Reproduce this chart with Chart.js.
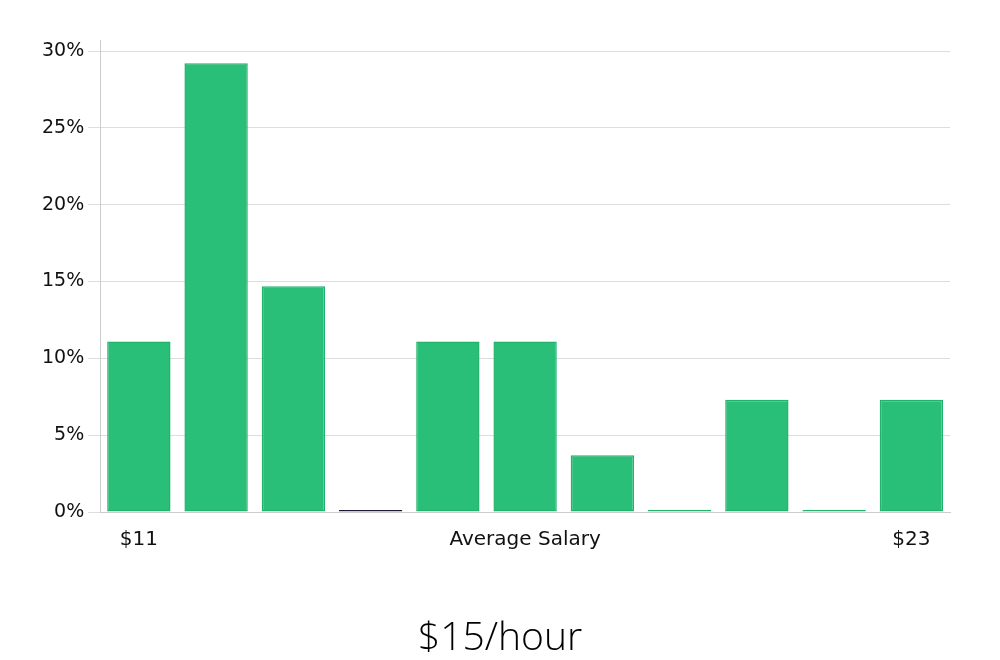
<!DOCTYPE html>
<html>
<head>
<meta charset="utf-8">
<script src="https://cdn.jsdelivr.net/npm/chart.js@4"></script>
<style>
  html, body { margin: 0; padding: 0; background: #fff; }
  #wrap { position: relative; width: 1000px; height: 660px; }
  #chartTitle {
    position: absolute; left: 0; top: 612px; width: 1000px;
    text-align: center; line-height: 46px;
    font-family: 'Open Sans', sans-serif; font-weight: 300; font-size: 39px; color: #000;
  }
</style>
</head>
<body>
<div id="wrap">
  <canvas id="salaryChart"></canvas>
  <div id="chartTitle"></div>
</div>
<script>
// Salary distribution ($/hour buckets)
const categories = ['$11', '', '', '', '', 'Average Salary', '', '', '', '', '$23'];
const shareValues = [11.1, 29.2, 14.7, 0, 11.1, 11.1, 3.7, 0, 7.3, 0, 7.3];
const yTicks = [0, 5, 10, 15, 20, 25, 30];
const chartTitle = '$15/hour';

document.getElementById('chartTitle').textContent = chartTitle;

const green = '#2abf78';
const greenEdge = '#22b26b';
const borders = shareValues.map((v, i) => (i === 3 ? '#1c1c3a' : greenEdge));

new Chart(document.getElementById('salaryChart'), {
  type: 'bar',
  data: {
    labels: categories,
    datasets: [{
      data: shareValues,
      backgroundColor: green,
      borderColor: borders,
      borderWidth: 1.5,
      borderSkipped: false,
      minBarLength: 2,
      categoryPercentage: 1,
      barPercentage: 0.82,
    }]
  },
  options: {
    responsive: true,
    maintainAspectRatio: false,
    animation: false,
    // bottom padding leaves room for the html title under the axis
    layout: { padding: { left: 38, right: 50, top: 40, bottom: 100 } },
    plugins: {
      legend: { display: false },
      tooltip: { enabled: false },
    },
    scales: {
      y: {
        min: 0,
        max: 30.72,
        afterBuildTicks: axis => { axis.ticks = yTicks.map(v => ({ value: v })); },
        ticks: {
          callback: v => v + '%',
          color: '#111',
          font: { family: 'DejaVu Sans', size: 19 },
          padding: 4,
        },
        grid: { color: '#dddddd', tickLength: 12 },
        border: { color: '#cccccc' },
      },
      x: {
        grid: { display: false },
        border: { color: '#cccccc' },
        ticks: {
          autoSkip: false,
          maxRotation: 0,
          color: '#111',
          font: { family: 'DejaVu Sans', size: 20 },
          padding: 8,
        },
      },
    },
  },
});
</script>
</body>
</html>
